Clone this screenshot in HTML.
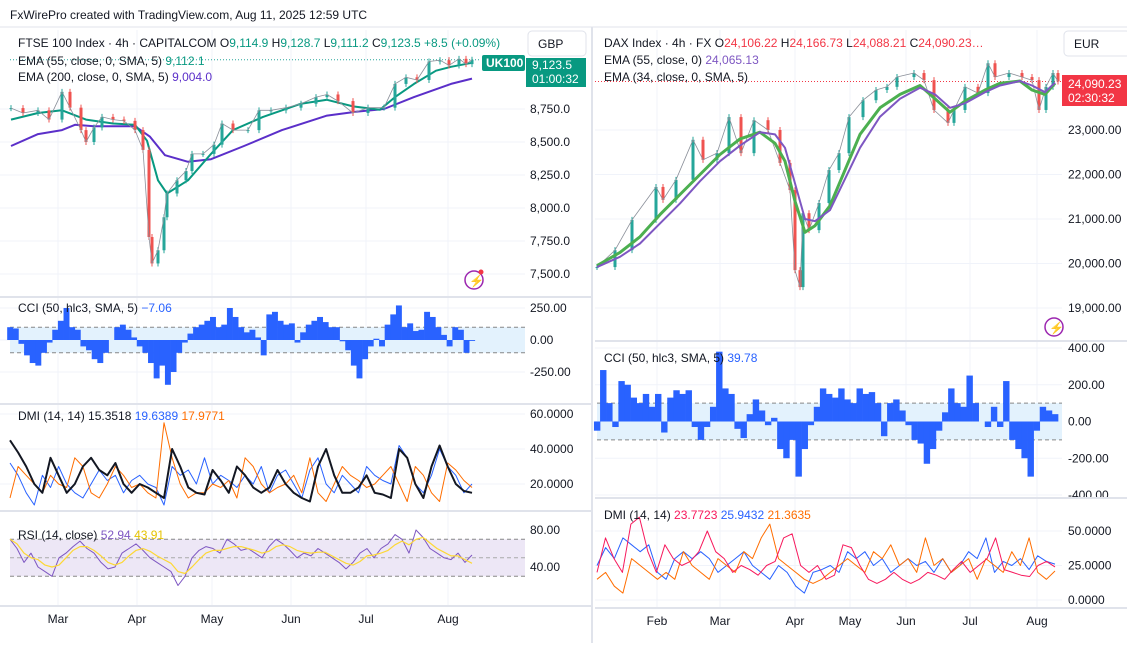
<!DOCTYPE html>
<html><head><meta charset="utf-8"><style>
body{margin:0;background:#fff;font-family:"Liberation Sans",sans-serif;}
svg text{font-family:"Liberation Sans",sans-serif;}
</style></head><body>
<svg id="c" width="1127" height="643" viewBox="0 0 1127 643" xmlns="http://www.w3.org/2000/svg">
<rect width="1127" height="643" fill="#fff"/>
<text x="10" y="19" font-size="12" fill="#131722">FxWirePro created with TradingView.com, Aug 11, 2025 12:59 UTC</text>
<g id="g"></g>
</svg>
<script>
// ---------- LEFT (FTSE) DATA ----------
const lBars=[1,13,28,39,52,60,71,76,84,92,103,114,125,133,139,142,148,154,157,167,176,182,193,204,212,223,238,249,261,276,291,306,317,328,343,358,374,385,396,407,419,430,439,449,456,462];
const lClose=[8757,8720,8740,8670,8880,8760,8590,8500,8610,8690,8670,8660,8590,8440,7780,7580,7680,7930,8110,8210,8280,8410,8410,8480,8640,8590,8590,8740,8740,8760,8790,8840,8860,8810,8720,8760,8760,8940,8990,8970,9110,9120,9080,9130,9090,9123];
const lEmaBars=[1,28,52,76,103,125,137,148,157,178,201,223,253,291,317,343,370,385,404,426,441,462];
const lEma55=[8670,8720,8740,8670,8640,8630,8510,8210,8110,8210,8410,8590,8690,8790,8820,8770,8745,8840,8940,9040,9070,9100];
const lEma200Bars=[1,28,52,65,84,125,140,155,178,201,234,272,317,347,374,404,441,462];
const lEma200=[8470,8560,8590,8630,8620,8620,8540,8400,8350,8370,8470,8590,8700,8730,8750,8840,8940,8980];
const lPriceTicks=[8750,8500,8250,8000,7750,7500];
const lMonths=["Mar","Apr","May","Jun","Jul","Aug"];
const lMonthBars=[48,127,202,281,356,438];
const lCCI=[100,90,-30,-120,-180,-200,-100,-20,80,150,250,100,80,-50,-80,-150,-180,-100,0,100,120,80,20,-50,-100,-180,-300,-200,-350,-250,-100,-20,50,100,120,150,180,100,120,250,180,100,60,80,20,-120,200,220,150,120,130,-20,60,120,150,180,140,100,100,-10,-80,-200,-300,-150,-50,10,-50,120,200,270,100,130,70,80,220,180,100,40,-50,100,80,-100,-7];
const lCCITicks=[250,0,-250];
const lAdx=[45,38,30,20,15,35,25,15,20,30,35,28,25,32,20,15,20,18,15,12,40,30,18,15,14,28,22,15,30,25,18,15,18,28,20,15,12,10,30,40,25,15,15,18,25,15,14,12,40,35,20,12,30,42,30,20,16,15];
const lPdi=[32,25,15,8,25,18,30,20,15,12,20,28,22,25,15,22,25,20,18,8,30,25,28,20,35,20,25,22,18,25,20,30,15,25,28,20,12,28,35,20,15,25,20,15,30,25,22,20,42,35,20,15,25,40,30,25,15,20];
const lMdi=[12,30,25,20,15,25,20,18,35,30,15,12,20,30,25,18,20,15,12,55,35,20,12,15,15,20,18,22,12,35,30,20,15,18,20,25,15,35,15,10,20,30,25,22,18,20,25,30,20,10,30,25,15,10,32,28,22,18];
const lDmiTicks=[60,40,20];
const lRsi=[70,60,45,55,40,35,30,50,55,62,68,60,55,45,38,40,55,60,65,58,50,45,40,35,20,30,50,58,62,60,55,70,65,58,60,55,50,62,70,65,58,50,55,52,60,55,50,45,38,45,55,60,50,60,65,75,70,55,80,72,60,55,50,48,55,45,53];
const lRsiSma=[70,65,55,50,48,42,40,42,50,58,62,62,58,52,45,42,45,52,58,60,57,52,48,44,35,33,40,48,55,58,58,60,62,62,60,58,55,57,62,64,62,58,56,55,56,56,52,48,44,42,46,52,53,55,58,64,68,64,70,72,66,60,56,52,52,48,44];
const lRsiTicks=[80,40];
// ---------- RIGHT (DAX) DATA ----------
const rBars=[0,18,35,59,66,79,96,106,120,132,144,157,171,183,193,198,203,206,212,222,232,242,252,266,279,290,300,317,327,337,351,357,368,381,391,398,412,425,435,442,449,456,461];
const rClose=[19920,20300,20980,21720,21430,21880,22780,22330,22480,23290,22480,23220,23000,22260,21650,19850,19470,21130,20750,21360,22100,22480,23290,23670,23900,23970,24190,24280,24120,23450,23160,23450,23970,23830,24500,24190,24280,24190,24120,23450,23970,24280,24090];
const rEmaBars=[0,23,43,63,83,103,123,143,163,178,188,198,208,218,233,248,263,283,303,323,338,353,368,388,403,423,435,448,458];
const rEma34=[19950,20250,20600,21100,21550,22000,22450,22800,22950,22700,22300,21400,20700,20850,21300,22100,22900,23500,23800,24000,23700,23400,23650,23900,24050,24100,23900,23800,24050];
const rEma55=[19920,20150,20450,20900,21350,21850,22300,22650,22950,22900,22600,21800,21000,20950,21200,21900,22600,23300,23700,23950,23800,23500,23600,23850,24000,24100,24000,23850,24065];
const rPriceTicks=[23000,22000,21000,20000,19000];
const rMonths=["Feb","Mar","Apr","May","Jun","Jul","Aug"];
const rMonthBars=[60,123,198,253,309,373,440];
const rCCI=[-50,280,100,-30,220,200,130,100,150,80,150,-60,130,170,150,170,-30,-100,-30,80,380,180,150,-40,-90,40,120,60,-20,20,-150,-200,-100,-300,-150,-20,80,180,150,130,180,120,100,180,150,160,100,-80,100,120,60,-20,-100,-120,-230,-150,-50,50,180,100,80,250,100,0,-30,80,-30,220,-100,-150,-200,-300,-50,80,60,40];
const rCCITicks=[400,200,0,-200,-400];
const rRed=[20,45,30,20,55,60,35,20,40,30,25,28,35,50,35,30,20,25,22,18,25,28,45,48,25,20,25,15,18,40,38,25,15,12,15,20,15,12,15,20,18,15,22,28,20,25,30,45,22,20,18,17,25,28,24];
const rBlue=[25,38,30,45,40,35,40,20,15,30,35,30,35,30,20,25,30,35,25,20,15,25,20,10,5,20,22,25,20,35,30,35,25,30,20,25,30,25,28,20,30,20,25,35,30,45,20,28,25,30,22,32,28,26];
const rOrange=[15,20,10,5,30,25,20,15,20,15,35,25,20,15,30,25,20,35,30,45,55,30,25,20,15,12,15,20,25,30,25,20,35,30,40,25,30,20,45,25,30,20,25,30,15,30,25,20,35,25,45,20,15,21];
const rDmiTicks=[50,25,0];

const NS="http://www.w3.org/2000/svg";
const G=document.getElementById('g');
function mk(tag,attrs,parent){const e=document.createElementNS(NS,tag);for(const k in attrs)e.setAttribute(k,attrs[k]);(parent||G).appendChild(e);return e;}
function lin(d0,d1,r0,r1){return v=>r0+(v-d0)*(r1-r0)/(d1-d0);}
function fmt(v,dec){return v.toLocaleString('en-US',{minimumFractionDigits:dec,maximumFractionDigits:dec});}

function grid(y,x0,x1){const l=mk('line',{x1:x0,x2:x1,y1:y,y2:y,stroke:'#f0f3fa'});

}
function tick(x,y,txt,name){const t=mk('text',{x:x,y:y+4,'font-size':12,fill:'#131722'});t.textContent=txt;

}
function poly(xs,ys,color,w,name){const p=mk('polyline',{points:xs.map((x,i)=>x.toFixed(1)+','+ys[i].toFixed(1)).join(' '),fill:'none',stroke:color,'stroke-width':w,'stroke-linejoin':'round'});

}
function uni(n,x0,x1){return Array.from({length:n},(_,i)=>x0+i*(x1-x0)/(n-1));}

function candles(bars,close,X,Y,name){
 for(let i=0;i<bars.length;i++){
  const o=i?close[i-1]:close[i],c=close[i];const up=c>=o;const col=up?'#26a69a':'#ef5350';
  const x=X(bars[i]);const hi=Math.max(o,c),lo=Math.min(o,c);
  const w=mk('line',{x1:x,x2:x,y1:Y(hi)-3,y2:Y(lo)+3,stroke:col,'stroke-width':1});
  
  
  const b=mk('rect',{x:x-1.5,y:Y(hi),width:3,height:Math.max(1,Y(lo)-Y(hi)),fill:col});
  
  
 }
 poly(bars.map(X),close.map(Y),'#8a8f99',0.8,name+'-close-line');
}
function cci(vals,x0,x1,Y,name){
 const xs=uni(vals.length,x0,x1);const w=(x1-x0)/(vals.length-1);
 for(let i=0;i<vals.length;i++){const y0=Y(0),y=Y(vals[i]);
  const r=mk('rect',{x:xs[i]-w/2,y:Math.min(y0,y),width:w+0.3,height:Math.abs(y-y0),fill:'#2962ff'});
  
  }
}
function band(x0,x1,ya,yb,fill,name){const r=mk('rect',{x:x0,y:ya,width:x1-x0,height:yb-ya,fill:fill});


[ya,yb].forEach(y=>{const l=mk('line',{x1:x0,x2:x1,y1:y,y2:y,stroke:'#888','stroke-dasharray':'4,3'});

});}
function sep(x0,x1,y){const l=mk('line',{x1:x0,x2:x1,y1:y,y2:y,stroke:'#e0e3eb','stroke-width':2});

}
function label(x,y,parts,name){const t=mk('text',{x:x,y:y,'font-size':12,fill:'#131722'});


parts.forEach(p=>{const s=mk('tspan',{fill:p[1]},t);s.textContent=p[0];});}

// ================= LEFT PANEL =================
(function(){
 const X=b=>10+b;
 const Y=lin(8750,7500,109,274);
 lPriceTicks.forEach(v=>{grid(Y(v),0,525);tick(530,Y(v),fmt(v,1),'left-price-tick');});
 lMonthBars.forEach(b=>{const l=mk('line',{x1:X(b),x2:X(b),y1:30,y2:605,stroke:'#f0f3fa'});
  
  });
 const pl=mk('line',{x1:10,x2:480,y1:Y(9123.5),y2:Y(9123.5),stroke:'#26a69a','stroke-dasharray':'1,2'});
 
 
 poly(lEma200Bars.map(X),lEma200.map(Y),'#5b2fc9',2,'left-ema200');
 poly(lEmaBars.map(X),lEma55.map(Y),'#089981',2,'left-ema55');
 candles(lBars,lClose,X,Y,'left-price');
 // CCI
 sep(0,591,297);
 const C=lin(250,-250,308,372);
 lCCITicks.forEach(v=>{grid(C(v),0,525);tick(530,C(v),fmt(v,2),'left-cci-tick');});
 band(10,525,C(100),C(-100),'#e3f2fd','left-cci-band');
 cci(lCCI,10,472,C,'left-cci');
 // DMI
 sep(0,591,404);
 const D=lin(60,20,414,484);
 lDmiTicks.forEach(v=>{grid(D(v),0,525);tick(530,D(v),fmt(v,4),'left-dmi-tick');});
 poly(uni(lPdi.length,10,472),lPdi.map(D),'#2962ff',1,'left-dmi-plus');
 poly(uni(lMdi.length,10,472),lMdi.map(D),'#ff6d00',1,'left-dmi-minus');
 poly(uni(lAdx.length,10,472),lAdx.map(D),'#131722',2,'left-dmi-adx');
 // RSI
 sep(0,591,511);
 const R=lin(80,40,530,567);
 band(10,525,R(70),R(30),'#ede7f6','left-rsi-band');
 const mid=mk('line',{x1:10,x2:525,y1:R(50),y2:R(50),stroke:'#aaa','stroke-dasharray':'4,3'});
 
 
 lRsiTicks.forEach(v=>tick(530,R(v),fmt(v,2),'left-rsi-tick'));
 poly(uni(lRsi.length,10,472),lRsi.map(R),'#7e57c2',1,'left-rsi');
 poly(uni(lRsiSma.length,10,472),lRsiSma.map(R),'#fdd835',1.2,'left-rsi-sma');
 sep(0,591,606);
 lMonths.forEach((m,i)=>{const t=mk('text',{x:X(lMonthBars[i]),y:623,'font-size':12,'text-anchor':'middle',fill:'#131722'});t.textContent=m;
  
  });
 label(18,47,[['FTSE 100 Index · 4h · CAPITALCOM  ','#131722'],['O','#131722'],['9,114.9  ','#089981'],['H','#131722'],['9,128.7  ','#089981'],['L','#131722'],['9,111.2  ','#089981'],['C','#131722'],['9,123.5  +8.5 (+0.09%)','#089981']],'left-legend-title');
 label(18,65,[['EMA (55, close, 0, SMA, 5)  ','#131722'],['9,112.1','#089981']],'left-legend-ema55');
 label(18,81,[['EMA (200, close, 0, SMA, 5)  ','#131722'],['9,004.0','#5b2fc9']],'left-legend-ema200');
 label(18,312,[['CCI (50, hlc3, SMA, 5)  ','#131722'],['−7.06','#2962ff']],'left-cci-legend');
 label(18,420,[['DMI (14, 14)  15.3518  ','#131722'],['19.6389  ','#2962ff'],['17.9771','#ff6d00']],'left-dmi-legend');
 label(18,539,[['RSI (14, close)  ','#131722'],['52.94  ','#7e57c2'],['43.91','#e6c300']],'left-rsi-legend');
})();

// ================= RIGHT PANEL =================
(function(){
 const X=b=>597+b;
 const Y=lin(23000,19000,130,308);
 rPriceTicks.forEach(v=>{grid(Y(v),595,1062);tick(1068,Y(v),fmt(v,2),'right-price-tick');});
 rMonthBars.forEach(b=>{const l=mk('line',{x1:X(b),x2:X(b),y1:30,y2:607,stroke:'#f0f3fa'});
  
  });
 const pl=mk('line',{x1:595,x2:1062,y1:Y(24090.23),y2:Y(24090.23),stroke:'#f23645','stroke-dasharray':'1,2'});
 
 
 candles(rBars,rClose,X,Y,'right-price');
 poly(rEmaBars.map(X),rEma34.map(Y),'#4caf50',3,'right-ema34');
 poly(rEmaBars.map(X),rEma55.map(Y),'#7e57c2',2,'right-ema55');
 sep(595,1127,341);
 const C=lin(400,-400,348,495);
 rCCITicks.forEach(v=>{grid(C(v),595,1062);tick(1068,C(v),fmt(v,2),'right-cci-tick');});
 band(597,1062,C(100),C(-100),'#e3f2fd','right-cci-band');
 cci(rCCI,597,1055,C,'right-cci');
 sep(595,1127,498);
 const D=lin(50,0,531,600);
 rDmiTicks.forEach(v=>{grid(D(v),595,1062);tick(1068,D(v),fmt(v,4),'right-dmi-tick');});
 poly(uni(rBlue.length,597,1055),rBlue.map(D),'#2962ff',1,'right-dmi-plus');
 poly(uni(rOrange.length,597,1055),rOrange.map(D),'#ff6d00',1,'right-dmi-minus');
 poly(uni(rRed.length,597,1055),rRed.map(D),'#f7185c',1,'right-dmi-adx');
 sep(595,1127,608);
 rMonths.forEach((m,i)=>{const t=mk('text',{x:X(rMonthBars[i]),y:625,'font-size':12,'text-anchor':'middle',fill:'#131722'});t.textContent=m;
  
  });
 label(604,47,[['DAX Index · 4h · FX  ','#131722'],['O','#131722'],['24,106.22  ','#f23645'],['H','#131722'],['24,166.73  ','#f23645'],['L','#131722'],['24,088.21  ','#f23645'],['C','#131722'],['24,090.23…','#f23645']],'right-legend-title');
 label(604,64,[['EMA (55, close, 0)  ','#131722'],['24,065.13','#7e57c2']],'right-legend-ema55');
 label(604,81,[['EMA (34, close, 0, SMA, 5)','#131722']],'right-legend-ema34');
 label(604,362,[['CCI (50, hlc3, SMA, 5)  ','#131722'],['39.78','#2962ff']],'right-cci-legend');
 label(604,519,[['DMI (14, 14)  ','#131722'],['23.7723  ','#f7185c'],['25.9432  ','#2962ff'],['21.3635','#ff6d00']],'right-dmi-legend');
})();
</script>
<svg width="1127" height="643" style="position:absolute;left:0;top:0;pointer-events:none" xmlns="http://www.w3.org/2000/svg">
 <line x1="592" y1="27" x2="592" y2="643" stroke="#e0e3eb" stroke-width="2"/>
 <line x1="0" y1="27" x2="1127" y2="27" stroke="#e0e3eb"/>
 <g><rect x="528" y="31" width="58" height="25" rx="4" fill="#fff" stroke="#e0e3eb"/><text x="538" y="48" font-size="12" fill="#131722">GBP</text></g>
 <g><rect x="482" y="55" width="43" height="16" rx="2" fill="#089981"/><text x="486" y="67" font-size="12" font-weight="bold" fill="#fff">UK100</text></g>
 <g><rect x="526" y="58" width="60" height="29" fill="#089981"/><text x="532" y="69" font-size="12" fill="#fff">9,123.5</text><text x="532" y="83" font-size="12" fill="#fff">01:00:32</text></g>
 <g><rect x="1064" y="31" width="66" height="25" rx="4" fill="#fff" stroke="#e0e3eb"/><text x="1074" y="48" font-size="12" fill="#131722">EUR</text></g>
 <g><rect x="1062" y="75" width="65" height="31" fill="#f23645"/><text x="1068" y="88" font-size="12" fill="#fff">24,090.23</text><text x="1068" y="102" font-size="12" fill="#fff">02:30:32</text></g>
 <g><circle cx="474" cy="280" r="9" fill="none" stroke="#9c27b0" stroke-width="1.5"/><text x="469" y="285" font-size="12" fill="#9c27b0">⚡</text><circle cx="481" cy="272" r="2.5" fill="#f23645"/></g>
 <g><circle cx="1054" cy="327" r="9" fill="none" stroke="#9c27b0" stroke-width="1.5"/><text x="1049" y="332" font-size="12" fill="#9c27b0">⚡</text></g>
</svg>
</body></html>
